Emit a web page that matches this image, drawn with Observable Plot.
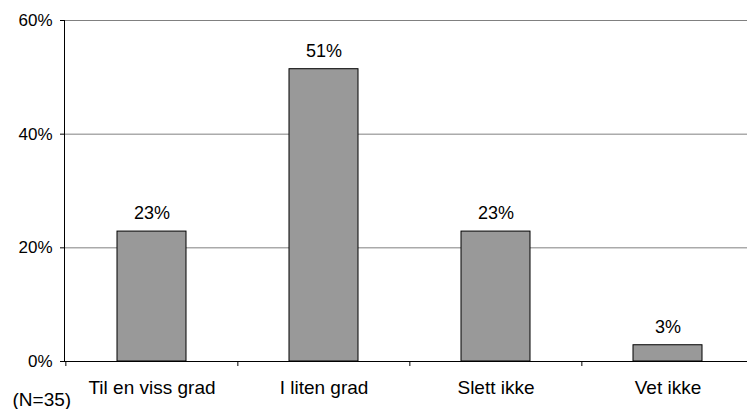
<!DOCTYPE html>
<html><head><meta charset="utf-8">
<script src="https://cdn.jsdelivr.net/npm/d3@7"></script>
<script src="https://cdn.jsdelivr.net/npm/@observablehq/plot@0.6"></script>
<style>body{margin:0;background:#fff} svg{display:block}</style>
</head><body><div id="chart"></div>
<script>
const categories = ["Til en viss grad", "I liten grad", "Slett ikke", "Vet ikke"];
const values = [22.86, 51.43, 22.86, 2.86];
const yTicks = [0, 20, 40, 60];
const note = "(N=35)";

const data = categories.map((c, i) => ({category: c, value: values[i]}));
const W = 747, H = 409, ml = 64, mt = 20, mb = 48;
const step = 172.3;

const chart = Plot.plot({
  width: W, height: H,
  marginLeft: ml, marginTop: mt, marginBottom: mb, marginRight: 0,
  style: {fontFamily: "'Liberation Sans', Arial, sans-serif", fontSize: "18px", color: "#000", background: "#fff", overflow: "hidden"},
  x: {domain: categories, range: [ml + 0.5, ml + 0.5 + 4 * step], paddingInner: 0.6, paddingOuter: 0.3, axis: null, label: null},
  y: {domain: [0, 60], axis: null, label: null},
  marks: [
    Plot.gridY(yTicks.slice(1), {stroke: "#808080", strokeOpacity: 1}),
    Plot.barY(data, {x: "category", y: "value", fill: "#999999", stroke: "#000", strokeWidth: 1}),
    Plot.ruleY([0], {stroke: "#000"}),
    Plot.frame({anchor: "left", stroke: "#000"}),
    Plot.axisY(yTicks, {tickSize: 4, tickPadding: 8, tickFormat: d => d + "%", fontSize: 17, stroke: "#000", label: null}),
    Plot.axisX({tickSize: 5, tickFormat: () => "", dx: -step / 2, stroke: "#000", label: null}),
    Plot.text(data, {x: "category", y: "value", text: d => Math.round(d.value) + "%", dy: -18, fontSize: 18}),
    Plot.text(data, {x: "category", y: () => 0, text: "category", dy: 26, fontSize: 19}),
    Plot.text([note], {frameAnchor: "bottom-left", textAnchor: "start", lineAnchor: "middle", dx: -52, dy: 38, fontSize: 19})
  ]
});
document.getElementById("chart").append(chart);
</script>
</body></html>
